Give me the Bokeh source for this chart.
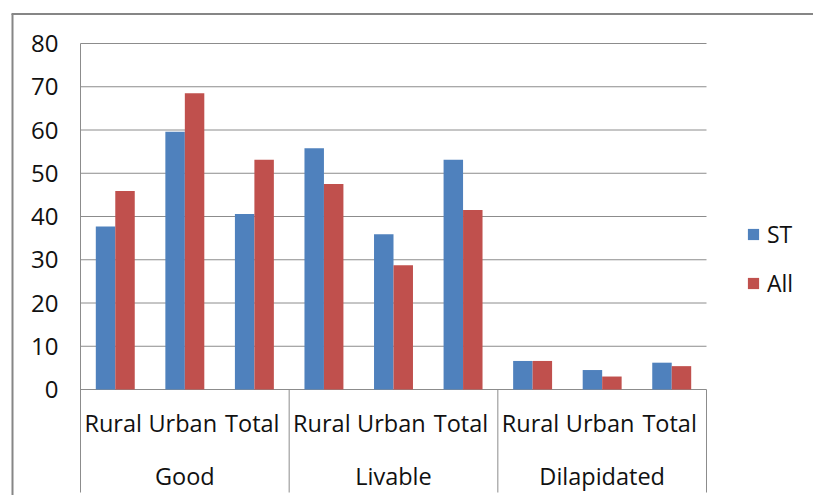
import numpy as np
from bokeh.plotting import figure
from bokeh.models import Range1d, ColumnDataSource, Legend, LegendItem
from bokeh.transform import dodge
from bokeh.core.properties import value
from bokeh.embed import file_html
from bokeh.resources import INLINE

# ---- data ----
groups = ["Good", "Livable", "Dilapidated"]
subs = ["Rural", "Urban", "Total"]
series = ["ST", "All"]
st_values = [37.7, 59.6, 40.6, 55.8, 35.9, 53.1, 6.6, 4.5, 6.2]
all_values = [45.9, 68.5, 53.1, 47.5, 28.7, 41.5, 6.6, 3.0, 5.4]
y_ticks = [0, 10, 20, 30, 40, 50, 60, 70, 80]

# ---- style / layout constants (pixels) ----
FONT = "Open Sans"
GRID = "#8c8c8c"
BORDER = "#868686"
BLUE = "#4F81BD"
RED = "#C0504D"
TXT = "#111111"
W, H = 813, 495
plot_left, plot_right = 80, 706
plot_top, zero_px, axis_bottom = 43, 389, 492

n = len(groups) * len(subs)
xu = (plot_right - plot_left) / n          # px per category
yu = (zero_px - plot_top) / max(y_ticks)   # px per value unit


def dx(px):
    return (px - plot_left) / xu


def dy(py):
    return (zero_px - py) / yu


p = figure(width=W, height=H, output_backend="svg", toolbar_location=None,
           x_range=Range1d(dx(0), dx(W)), y_range=Range1d(dy(H), dy(0)),
           min_border=0)
p.min_border_left = p.min_border_right = 0
p.min_border_top = p.min_border_bottom = 0
p.axis.visible = False
p.grid.visible = False
p.outline_line_color = None
p.background_fill_color = "white"
p.border_fill_color = "white"

# category positions come from the category index
xs = np.arange(n) + 0.5
src = ColumnDataSource(dict(x=xs, st=st_values, all=all_values,
                            sub=[s for g in groups for s in subs]))

# gridlines and axis
p.segment(x0=0, x1=n, y0=y_ticks, y1=y_ticks, line_color=GRID, line_width=1)
p.segment(x0=[0], x1=[0], y0=[max(y_ticks)], y1=[dy(axis_bottom)],
          line_color=GRID, line_width=1)
seps = [len(subs) * (k + 1) for k in range(len(groups))]
p.segment(x0=seps, x1=seps, y0=0, y1=dy(axis_bottom), line_color=GRID,
          line_width=1)

# y tick labels
p.text(x=dx(58), y=y_ticks, text=[str(t) for t in y_ticks],
       text_font=value(FONT), text_font_size="24px", text_align="right",
       text_baseline="middle", text_color=TXT)

# bars
bw = 0.28
r1 = p.vbar(x=dodge("x", -bw / 2), top="st", width=bw, source=src,
            fill_color=BLUE, line_color=None)
r2 = p.vbar(x=dodge("x", bw / 2), top="all", width=bw, source=src,
            fill_color=RED, line_color=None)

# category labels
p.text(x=dodge("x", -0.03), y=dy(422.5), text="sub", source=src,
       text_font=value(FONT), text_font_size="23.5px", text_align="center",
       text_baseline="middle", text_color=TXT)
gx = [len(subs) * k + len(subs) / 2 for k in range(len(groups))]
p.text(x=gx, y=dy(475), text=groups, text_font=value(FONT),
       text_font_size="23.5px", text_align="center", text_baseline="middle",
       text_color=TXT)

# legend
legend = Legend(items=[LegendItem(label=series[0], renderers=[r1]),
                       LegendItem(label=series[1], renderers=[r2])],
                location=(746, H - 299), glyph_width=14, glyph_height=14,
                label_text_font=FONT, label_text_font_size="23px",
                label_text_color=TXT, spacing=17, label_standoff=7,
                padding=0, margin=0,
                border_line_color=None, background_fill_alpha=0)
p.add_layout(legend, "center")

# outer chart border (top and left edges)
p.segment(x0=[dx(12), dx(11)], x1=[dx(12), dx(W + 5)],
          y0=[dy(13.5), dy(13.5)], y1=[dy(H + 5), dy(13.5)],
          line_color=BORDER, line_width=2)

open("out.html", "w").write(file_html(p, INLINE))
